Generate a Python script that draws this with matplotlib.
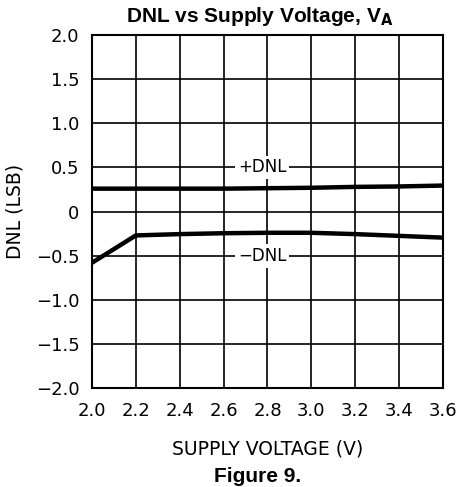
import matplotlib.pyplot as plt
import numpy as np

plt.rcParams["font.family"] = "DejaVu Sans"

# Data
supply_v = [2.0, 2.2, 2.4, 2.6, 2.8, 3.0, 3.2, 3.4, 3.6]
dnl_pos = [0.26, 0.26, 0.26, 0.26, 0.265, 0.27, 0.28, 0.285, 0.295]
dnl_neg = [-0.58, -0.27, -0.255, -0.245, -0.24, -0.24, -0.255, -0.275, -0.295]

x_ticks = [2.0, 2.2, 2.4, 2.6, 2.8, 3.0, 3.2, 3.4, 3.6]
y_ticks = [-2.0, -1.5, -1.0, -0.5, 0, 0.5, 1.0, 1.5, 2.0]
y_tick_labels = ["-2.0", "-1.5", "-1.0", "-0.5", "0", "0.5", "1.0", "1.5", "2.0"]

fig = plt.figure(figsize=(4.62, 4.87), dpi=100)
ax = fig.add_axes([0.199, 0.203, 0.760, 0.725])

ax.plot(supply_v, dnl_pos, color="black", linewidth=3.2, solid_capstyle="butt", zorder=3)
ax.plot(supply_v, dnl_neg, color="black", linewidth=3.2, solid_capstyle="butt", zorder=3)

ax.set_xlim(2.0, 3.6)
ax.set_ylim(-2.0, 2.0)
ax.set_xticks(x_ticks)
ax.set_xticklabels([f"{v:.1f}" for v in x_ticks])
ax.set_yticks(y_ticks)
ax.set_yticklabels([t.replace("-", "\u2212") for t in y_tick_labels])
ax.tick_params(length=0, labelsize=13)
ax.tick_params(axis="x", pad=10)
ax.tick_params(axis="y", pad=9)
ax.grid(True, color="black", linewidth=1.2)
for s in ax.spines.values():
    s.set_linewidth(1.5)

ax.text(2.775, 0.5, "+DNL", ha="center", va="center", fontsize=12,
        bbox=dict(facecolor="white", edgecolor="none", pad=2), zorder=4)
ax.text(2.775, -0.5, "\u2212DNL", ha="center", va="center", fontsize=12,
        bbox=dict(facecolor="white", edgecolor="none", pad=2), zorder=4)

ax.set_ylabel("DNL (LSB)", fontsize=13.5, labelpad=8)
ax.set_xlabel("SUPPLY VOLTAGE (V)", fontsize=13.5, labelpad=14)

fig.text(0.563, 0.967, r"DNL vs Supply Voltage, V$_\mathbf{A}$", ha="center", va="center",
         fontsize=15, fontweight="bold", family="Liberation Sans")
fig.text(0.558, 0.022, "Figure 9.", ha="center", va="center",
         fontsize=15, fontweight="bold", family="Liberation Sans")

plt.savefig("out.png", dpi=100)
plt.close()
